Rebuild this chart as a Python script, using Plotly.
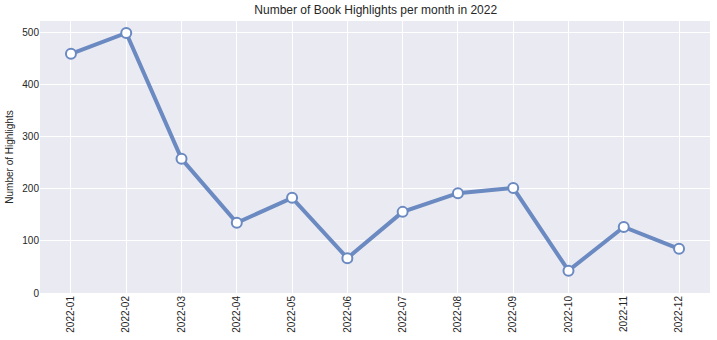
import plotly.graph_objects as go

months = ["2022-01", "2022-02", "2022-03", "2022-04", "2022-05", "2022-06",
          "2022-07", "2022-08", "2022-09", "2022-10", "2022-11", "2022-12"]
highlights = [460, 500, 258, 135, 183, 67, 156, 192, 202, 43, 127, 85]
y_ticks = [0, 100, 200, 300, 400, 500]

fig = go.Figure()
fig.add_trace(go.Scatter(
    x=list(range(len(months))), y=highlights, mode="lines+markers",
    line=dict(color="rgb(107,138,193)", width=4),
    marker=dict(symbol="circle", size=10, color="white",
                line=dict(color="rgb(107,138,193)", width=2)),
    showlegend=False,
))

fig.update_layout(
    width=717, height=340,
    margin=dict(l=40, r=7, t=21, b=47),
    paper_bgcolor="white", plot_bgcolor="#EAEAF2",
    font=dict(family="Liberation Sans, Arial, sans-serif", size=10, color="#262626"),
    title=dict(text="Number of Book Highlights per month in 2022",
               x=0.524, xanchor="center", y=0.97, yanchor="middle",
               font=dict(size=12, color="#262626")),
)
fig.update_xaxes(
    tickmode="array", tickvals=list(range(len(months))), ticktext=months,
    tickangle=-90, range=[-0.56, 11.56], showgrid=True, gridcolor="white",
    gridwidth=1, zeroline=False, showline=False, ticks="", ticklen=0,
    tickfont=dict(size=10, color="#262626"),
)
fig.update_yaxes(
    tickvals=y_ticks, range=[0, 523], showgrid=True, gridcolor="white",
    gridwidth=1, zeroline=False, showline=False, ticks="",
    tickfont=dict(size=10, color="#262626"),
    title=dict(text="Number of Highlights", font=dict(size=10, color="#262626"), standoff=6),
)

fig.write_html("out.html")
